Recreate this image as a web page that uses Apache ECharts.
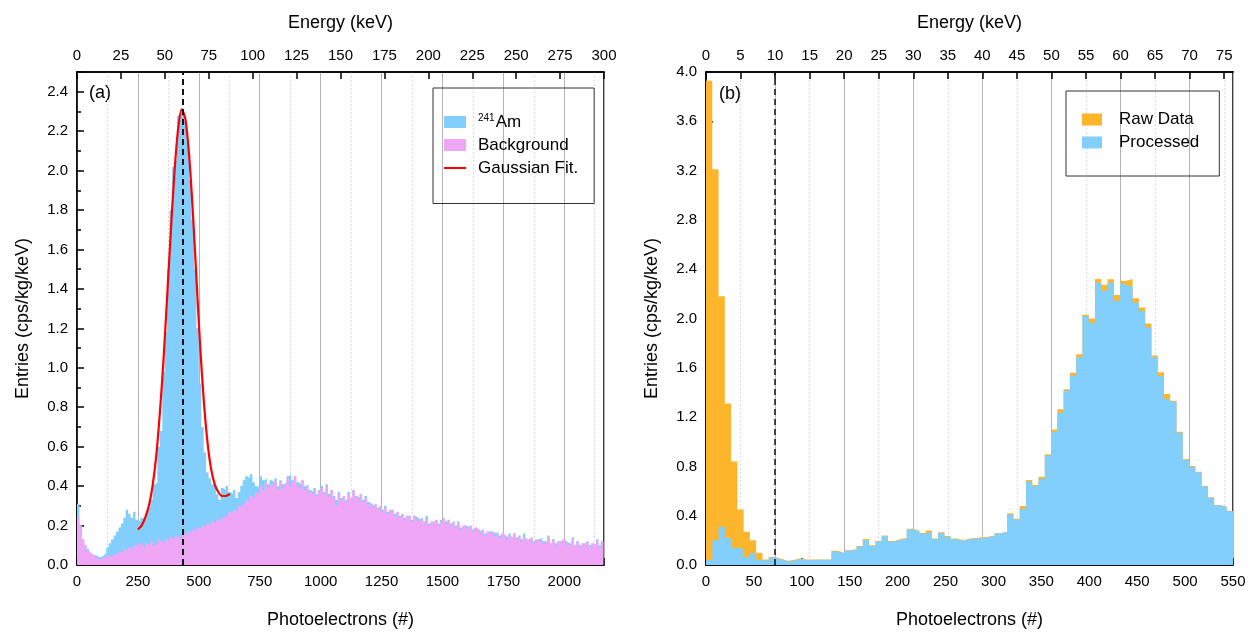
<!DOCTYPE html>
<html>
<head>
<meta charset="utf-8">
<script src="https://cdn.jsdelivr.net/npm/echarts@6/dist/echarts.min.js"></script>
<style>
  html, body { margin: 0; padding: 0; background: #fff; }
  #chart { width: 1254px; height: 634px; }
</style>
</head>
<body>
<div id="chart"></div>
<script>
// ---- panel (a): 241Am spectrum vs background, 10 PE bins from 0 ----
const amBinWidth = 10;
const amCounts = [
  0.31, 0.2, 0.13, 0.1, 0.08, 0.06, 0.05, 0.05, 0.04, 0.04,
  0.05, 0.06, 0.09, 0.11, 0.13, 0.15, 0.17, 0.19, 0.21, 0.24,
  0.28, 0.26, 0.24, 0.27, 0.23, 0.22, 0.24, 0.23, 0.26, 0.29,
  0.33, 0.41, 0.42, 0.6, 0.68, 0.98, 1.18, 1.5, 1.8, 2.02,
  2.05, 2.28, 2.29, 2.28, 2.25, 2.15, 1.95, 1.75, 1.5, 1.2,
  0.92, 0.7, 0.57, 0.47, 0.44, 0.41, 0.4, 0.36, 0.33, 0.39,
  0.38, 0.4, 0.37, 0.36, 0.38, 0.34, 0.37, 0.4, 0.43, 0.45,
  0.44, 0.46, 0.42, 0.4, 0.39, 0.45, 0.43, 0.44, 0.41, 0.43,
  0.42, 0.44, 0.4, 0.43, 0.41, 0.42, 0.45, 0.46, 0.43, 0.45,
  0.42, 0.41, 0.43, 0.4, 0.41, 0.38, 0.37, 0.39, 0.36, 0.38,
  0.4, 0.37, 0.41, 0.36, 0.38, 0.35, 0.33, 0.37, 0.34, 0.35,
  0.33, 0.37, 0.34, 0.38, 0.35, 0.34, 0.36, 0.33, 0.35, 0.32,
  0.31, 0.3, 0.31, 0.29, 0.3, 0.28, 0.3, 0.27, 0.28, 0.28,
  0.26, 0.27, 0.25, 0.26, 0.24, 0.25, 0.25, 0.23, 0.25, 0.24,
  0.23, 0.24, 0.22, 0.25, 0.21, 0.22, 0.22, 0.23, 0.21, 0.23,
  0.24, 0.22, 0.23, 0.21, 0.22, 0.2, 0.22, 0.19, 0.2, 0.2,
  0.19, 0.2, 0.18, 0.19, 0.18, 0.17, 0.18, 0.16, 0.17, 0.17,
  0.17, 0.16, 0.17, 0.15, 0.16, 0.15, 0.14, 0.16, 0.14, 0.16,
  0.14, 0.15, 0.13, 0.16, 0.13, 0.13, 0.14, 0.12, 0.13, 0.13,
  0.14, 0.12, 0.12, 0.15, 0.11, 0.13, 0.11, 0.12, 0.12, 0.13,
  0.12, 0.11, 0.11, 0.14, 0.1, 0.12, 0.1, 0.11, 0.11, 0.12,
  0.1, 0.11, 0.1, 0.13, 0.1, 0.12
];
const bgCounts = [
  0.24, 0.2, 0.13, 0.1, 0.07, 0.06, 0.05, 0.04, 0.03, 0.03,
  0.04, 0.03, 0.05, 0.04, 0.05, 0.06, 0.05, 0.07, 0.06, 0.08,
  0.07, 0.09, 0.08, 0.1, 0.09, 0.11, 0.1, 0.09, 0.11, 0.1,
  0.12, 0.1, 0.11, 0.13, 0.12, 0.11, 0.13, 0.12, 0.14, 0.13,
  0.15, 0.14, 0.13, 0.16, 0.15, 0.17, 0.16, 0.18, 0.17, 0.19,
  0.18, 0.2, 0.19, 0.21, 0.2, 0.22, 0.21, 0.23, 0.22, 0.24,
  0.25, 0.24, 0.27, 0.26, 0.28, 0.27, 0.3, 0.29, 0.31, 0.33,
  0.32, 0.35, 0.34, 0.37, 0.36, 0.4, 0.38, 0.42, 0.39, 0.41,
  0.4, 0.43, 0.38, 0.42, 0.39, 0.41, 0.44, 0.4, 0.42, 0.45,
  0.41, 0.39, 0.43, 0.38, 0.4, 0.37, 0.36, 0.38, 0.35, 0.37,
  0.39, 0.36, 0.4, 0.35, 0.38, 0.34, 0.3, 0.36, 0.33, 0.35,
  0.32, 0.36, 0.34, 0.38, 0.35, 0.33, 0.36, 0.32, 0.34, 0.31,
  0.3, 0.29, 0.31, 0.28, 0.3, 0.27, 0.29, 0.26, 0.28, 0.27,
  0.25, 0.27, 0.24, 0.26, 0.23, 0.25, 0.24, 0.22, 0.25, 0.23,
  0.22, 0.24, 0.21, 0.23, 0.2, 0.22, 0.21, 0.23, 0.2, 0.22,
  0.24, 0.21, 0.23, 0.2, 0.22, 0.19, 0.21, 0.18, 0.2, 0.19,
  0.18, 0.2, 0.17, 0.19, 0.18, 0.16, 0.18, 0.15, 0.17, 0.16,
  0.17, 0.15, 0.16, 0.14, 0.16, 0.15, 0.13, 0.15, 0.14, 0.16,
  0.13, 0.15, 0.12, 0.14, 0.13, 0.12, 0.14, 0.11, 0.13, 0.12,
  0.13, 0.11, 0.12, 0.14, 0.11, 0.13, 0.1, 0.12, 0.11, 0.13,
  0.12, 0.1, 0.11, 0.13, 0.1, 0.12, 0.09, 0.11, 0.1, 0.12,
  0.09, 0.11, 0.1, 0.12, 0.09, 0.12
];
// gaussian fit curve
const fitPE = [250, 265, 280, 295, 310, 325, 340, 355, 370, 385, 400, 415, 430,
  445, 460, 475, 490, 505, 520, 535, 550, 565, 580, 595, 610, 628];
const fitValues = [0.18, 0.2, 0.24, 0.3, 0.4, 0.55, 0.77, 1.04, 1.36, 1.69, 1.99, 2.21, 2.31,
  2.26, 2.08, 1.8, 1.46, 1.12, 0.84, 0.63, 0.49, 0.41, 0.37, 0.35, 0.35, 0.36];
const peakPE = 432.6; // 60 keV

// ---- panel (b): raw vs processed, 84 bins over 0-550 PE ----
const rawCounts = [
  3.93, 3.21, 2.18, 1.31, 0.84, 0.45, 0.27, 0.2, 0.1, 0.045,
  0.065, 0.05, 0.035, 0.04, 0.055, 0.045, 0.045, 0.045, 0.045, 0.045,
  0.115, 0.1, 0.12, 0.13, 0.155, 0.21, 0.16, 0.195, 0.24, 0.195,
  0.21, 0.22, 0.295, 0.28, 0.26, 0.28, 0.215, 0.265, 0.235, 0.215,
  0.2, 0.215, 0.22, 0.225, 0.23, 0.24, 0.26, 0.272, 0.42, 0.376,
  0.479, 0.69, 0.649, 0.716, 0.898, 1.1, 1.263, 1.425, 1.56, 1.71,
  2.03, 2.0, 2.32, 2.274, 2.318, 2.19, 2.307, 2.32, 2.164, 2.09,
  1.96, 1.7, 1.563, 1.387, 1.333, 1.082, 0.86, 0.803, 0.757, 0.641,
  0.549, 0.487, 0.473, 0.44
];
const processedCounts = [
  0.04, 0.2, 0.31, 0.22, 0.14, 0.13, 0.065, 0.095, 0.04, 0.035,
  0.06, 0.045, 0.03, 0.035, 0.05, 0.04, 0.04, 0.042, 0.042, 0.043,
  0.11, 0.095, 0.115, 0.125, 0.15, 0.2, 0.155, 0.19, 0.235, 0.19,
  0.205, 0.215, 0.29, 0.276, 0.255, 0.27, 0.21, 0.26, 0.23, 0.21,
  0.195, 0.21, 0.215, 0.22, 0.225, 0.235, 0.257, 0.268, 0.41, 0.37,
  0.455, 0.677, 0.64, 0.7, 0.89, 1.082, 1.236, 1.414, 1.535, 1.685,
  2.02, 1.966, 2.29, 2.226, 2.29, 2.145, 2.286, 2.264, 2.128, 2.06,
  1.926, 1.685, 1.534, 1.347, 1.326, 1.074, 0.853, 0.795, 0.752, 0.638,
  0.546, 0.485, 0.47, 0.437
];
const cutPE = 72.1; // 10 keV

const peMaxA = 2163, keVMaxA = 300;
const peMaxB = 550, keVMaxB = 76.28;

const FONT = 'Liberation Sans, Arial, sans-serif';
const BLUE = '#82CEFC', PINK = '#F0A6F7', ORANGE = '#FDB52B';

function toSteps(vals, width) {
  const pts = vals.map((v, i) => [i * width, v]);
  pts.push([vals.length * width, vals[vals.length - 1]]);
  return pts;
}
const binB = peMaxB / rawCounts.length;

const black = { color: '#000', width: 1.5 };
const plain = v => String(v);
const fmt1 = v => v.toFixed(1);
function label(extra) {
  return Object.assign({ color: '#000', fontSize: 15, fontFamily: FONT, margin: 9, formatter: plain }, extra);
}
function axis(o) {
  return Object.assign({
    type: 'value',
    axisLine: { show: true, onZero: false, lineStyle: black },
    axisTick: { show: true, inside: true, length: 7, lineStyle: black },
    minorTick: { show: false },
    axisLabel: label(),
    splitLine: { show: false },
    nameLocation: 'middle',
    nameTextStyle: { color: '#000', fontSize: 18, fontFamily: FONT }
  }, o);
}
const minorIn = { show: true, splitNumber: 2, length: 4, lineStyle: black };
const gridSolid = { show: true, lineStyle: { color: '#b4b4b4', width: 1 } };
const gridDotted = { show: true, lineStyle: { color: '#dcdcdc', width: 1, type: [2, 2] } };

const chart = echarts.init(document.getElementById('chart'), null, { renderer: 'canvas' });
chart.setOption({
  animation: false,
  backgroundColor: '#fff',
  grid: [
    { left: 77, top: 72, width: 527, height: 493, show: true, borderColor: '#000', borderWidth: 1.5, backgroundColor: 'transparent' },
    { left: 706, top: 72, width: 527, height: 493, show: true, borderColor: '#000', borderWidth: 1.5, backgroundColor: 'transparent' }
  ],
  xAxis: [
    axis({ gridIndex: 0, position: 'bottom', min: 0, max: peMaxA, interval: 250,
      name: 'Photoelectrons (#)', nameGap: 46, minorTick: minorIn,
      axisLabel: label({ showMaxLabel: false }),
      splitLine: gridSolid, minorSplitLine: gridDotted }),
    axis({ gridIndex: 0, position: 'top', min: 0, max: keVMaxA, interval: 25,
      name: 'Energy (keV)', nameGap: 40 }),
    axis({ gridIndex: 1, position: 'bottom', min: 0, max: peMaxB, interval: 50,
      name: 'Photoelectrons (#)', nameGap: 46, minorTick: minorIn }),
    axis({ gridIndex: 1, position: 'top', min: 0, max: keVMaxB, interval: 5,
      name: 'Energy (keV)', nameGap: 40, axisLabel: label({ showMaxLabel: false }) }),
    // grid lines of panel (b) follow the energy scale
    { type: 'value', gridIndex: 1, position: 'top', min: 0, max: keVMaxB, interval: 10,
      axisLine: { show: false }, axisTick: { show: false }, axisLabel: { show: false },
      minorTick: { show: false, splitNumber: 2 },
      splitLine: gridSolid, minorSplitLine: gridDotted }
  ],
  yAxis: [
    axis({ gridIndex: 0, min: 0, max: 2.5, interval: 0.2, name: 'Entries (cps/kg/keV)', nameGap: 45,
      minorTick: minorIn, axisLabel: label({ formatter: fmt1, showMaxLabel: false }) }),
    axis({ gridIndex: 1, min: 0, max: 4, interval: 0.4, name: 'Entries (cps/kg/keV)', nameGap: 45,
      minorTick: minorIn, axisLabel: label({ formatter: fmt1 }) })
  ],
  legend: [
    {
      orient: 'vertical', left: 433, top: 88,
      data: [
        { name: '241Am', icon: 'rect' },
        { name: 'Background', icon: 'rect' },
        { name: 'Gaussian Fit.', itemStyle: { color: 'rgba(0,0,0,0)', borderWidth: 0 },
          lineStyle: { color: '#ff0000', width: 2 } }
      ],
      itemWidth: 22, itemHeight: 12, itemGap: 6,
      padding: [25, 16, 27, 10],
      borderColor: '#333', borderWidth: 1,
      formatter: n => n === '241Am' ? '{sup|241}{b|Am}' : n,
      textStyle: { color: '#000', fontSize: 17, fontFamily: FONT, padding: [0, 0, 0, 7],
        rich: { sup: { fontSize: 10, fontFamily: FONT, verticalAlign: 'top', padding: [0, 1, 8, 0] },
                b: { fontSize: 17, fontFamily: FONT } } }
    },
    {
      orient: 'vertical', left: 1066, top: 91,
      data: [{ name: 'Raw Data', icon: 'rect' }, { name: 'Processed', icon: 'rect' }],
      itemWidth: 20, itemHeight: 12, itemGap: 6,
      padding: [20, 20, 25, 16],
      borderColor: '#333', borderWidth: 1,
      textStyle: { color: '#000', fontSize: 17, fontFamily: FONT, padding: [0, 0, 0, 12] }
    }
  ],
  graphic: [
    { type: 'text', left: 89, top: 84, style: { text: '(a)', fontSize: 18, fontFamily: FONT, fill: '#000' } },
    { type: 'text', left: 719, top: 85, style: { text: '(b)', fontSize: 18, fontFamily: FONT, fill: '#000' } }
  ],
  series: [
    { name: '241Am', type: 'line', xAxisIndex: 0, yAxisIndex: 0, step: 'end', symbol: 'none',
      data: toSteps(amCounts, amBinWidth), color: BLUE,
      lineStyle: { width: 0 }, areaStyle: { color: BLUE, opacity: 1 }, z: 2 },
    { name: 'Background', type: 'line', xAxisIndex: 0, yAxisIndex: 0, step: 'end', symbol: 'none',
      data: toSteps(bgCounts, amBinWidth), color: PINK,
      lineStyle: { width: 0 }, areaStyle: { color: PINK, opacity: 1 }, z: 3 },
    { name: 'Gaussian Fit.', type: 'line', xAxisIndex: 0, yAxisIndex: 0, symbol: 'none', smooth: 0.3,
      data: fitPE.map((x, i) => [x, fitValues[i]]), color: '#ff0000',
      lineStyle: { color: '#ff0000', width: 2.2 }, z: 4,
      markLine: { silent: true, symbol: ['none', 'none'], label: { show: false },
        lineStyle: { color: '#111', width: 2, type: [6, 4] }, data: [{ xAxis: peakPE }] } },
    { name: 'Raw Data', type: 'line', xAxisIndex: 2, yAxisIndex: 1, step: 'end', symbol: 'none',
      data: toSteps(rawCounts, binB), color: ORANGE,
      lineStyle: { width: 0 }, areaStyle: { color: ORANGE, opacity: 1 }, z: 2 },
    { name: 'Processed', type: 'line', xAxisIndex: 2, yAxisIndex: 1, step: 'end', symbol: 'none',
      data: toSteps(processedCounts, binB), color: BLUE,
      lineStyle: { width: 0 }, areaStyle: { color: BLUE, opacity: 1 }, z: 3,
      markLine: { silent: true, symbol: ['none', 'none'], label: { show: false },
        lineStyle: { color: '#111', width: 1.5, type: [6, 4] }, data: [{ xAxis: cutPE }] } }
  ]
});
</script>
</body>
</html>
